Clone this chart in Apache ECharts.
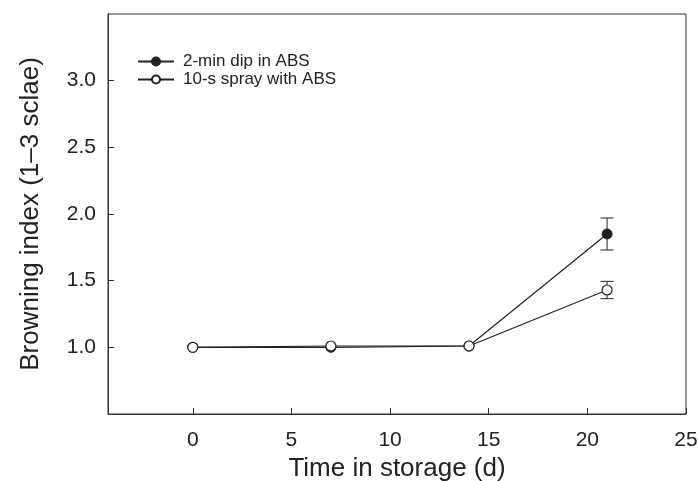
<!DOCTYPE html>
<html>
<head>
<meta charset="utf-8">
<script src="https://cdn.jsdelivr.net/npm/echarts@6/dist/echarts.min.js"></script>
<style>
  html, body { margin: 0; padding: 0; background: #fff; }
  #chart { width: 698px; height: 481px; }
</style>
</head>
<body>
<div id="chart"></div>
<script>
// days in storage
const days = [0, 7, 14, 21]
// browning index, 2-min dip
const dipValues = [1.0, 1.0, 1.01, 1.85]
const dipErr = [0, 0, 0, 0.12]
// browning index, 10-s spray
const sprayValues = [1.0, 1.01, 1.01, 1.43]
const sprayErr = [0, 0, 0, 0.065]
// tick labels
const xTicks = [0, 5, 10, 15, 20, 25]
const yTicks = [1.0, 1.5, 2.0, 2.5, 3.0]

const ink = '#222'
const font = 'Liberation Sans, Arial, sans-serif'

const chart = echarts.init(document.getElementById('chart'))

// error bars drawn with custom series
const errorSeries = (vals, errs) => ({
  type: 'custom',
  silent: true,
  z: 1,
  data: days.map((d, i) => [d, vals[i] - errs[i], vals[i] + errs[i]]).filter((r, i) => errs[i] > 0),
  renderItem: (params, api) => {
    const lo = api.coord([api.value(0), api.value(1)])
    const hi = api.coord([api.value(0), api.value(2)])
    const w = 6.5
    const style = { stroke: ink, lineWidth: 1 }
    return {
      type: 'group',
      children: [
        { type: 'line', shape: { x1: hi[0], y1: hi[1], x2: lo[0], y2: lo[1] }, style },
        { type: 'line', shape: { x1: hi[0] - w, y1: hi[1], x2: hi[0] + w, y2: hi[1] }, style },
        { type: 'line', shape: { x1: lo[0] - w, y1: lo[1], x2: lo[0] + w, y2: lo[1] }, style }
      ]
    }
  }
})

const option = {
  animation: false,
  grid: {
    left: 108, right: 12, top: 14, bottom: 67,
    outerBoundsMode: 'none',
    show: true, borderColor: '#333', borderWidth: 1
  },
  legend: {
    left: 137, top: 53,
    orient: 'vertical',
    padding: 0,
    itemWidth: 36, itemHeight: 10, itemGap: 1,
    textStyle: { fontFamily: font, fontSize: 17, color: ink, padding: [0, 0, 0, 4] },
    data: ['2-min dip in ABS', '10-s spray with ABS']
  },
  xAxis: {
    type: 'value',
    min: -4.3, max: 25,
    name: 'Time in storage (d)',
    nameLocation: 'middle',
    nameGap: 40,
    nameTextStyle: { fontFamily: font, fontSize: 26, color: ink },
    splitLine: { show: false },
    axisLine: { onZero: false, lineStyle: { color: '#333' } },
    axisTick: { inside: true, length: 6, lineStyle: { color: '#333' }, customValues: xTicks },
    axisLabel: { fontFamily: font, fontSize: 21, color: ink, margin: 16, customValues: xTicks }
  },
  yAxis: {
    type: 'value',
    min: 0.5, max: 3.5, interval: 0.5,
    name: 'Browning index (1\u20133 sclae)',
    nameLocation: 'middle',
    nameGap: 64,
    nameTextStyle: { fontFamily: font, fontSize: 26, color: ink },
    splitLine: { show: false },
    axisLine: { onZero: false, lineStyle: { color: '#333' } },
    axisTick: { inside: true, length: 6, lineStyle: { color: '#333' }, customValues: yTicks },
    axisLabel: {
      fontFamily: font, fontSize: 21, color: ink, margin: 12,
      customValues: yTicks,
      formatter: v => v.toFixed(1)
    }
  },
  series: [
    errorSeries(dipValues, dipErr),
    errorSeries(sprayValues, sprayErr),
    {
      name: '2-min dip in ABS',
      type: 'line',
      z: 2,
      data: days.map((d, i) => [d, dipValues[i]]),
      symbol: 'circle', symbolSize: 10,
      lineStyle: { color: ink, width: 1.2 },
      itemStyle: { color: ink, borderColor: ink, borderWidth: 1 }
    },
    {
      name: '10-s spray with ABS',
      type: 'line',
      z: 3,
      data: days.map((d, i) => [d, sprayValues[i]]),
      symbol: 'circle', symbolSize: 10,
      lineStyle: { color: ink, width: 1.2 },
      itemStyle: { color: '#fff', borderColor: ink, borderWidth: 1.2 }
    }
  ]
}

chart.setOption(option)
</script>
</body>
</html>
